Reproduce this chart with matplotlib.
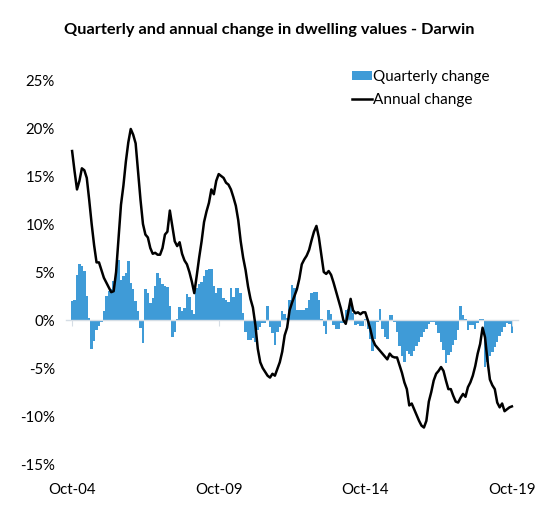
import matplotlib
matplotlib.use("Agg")
import matplotlib.pyplot as plt
import numpy as np

plt.rcParams['font.family'] = ['Lato', 'DejaVu Sans']

title = "Quarterly and annual change in dwelling values - Darwin"
series_names = ["Quarterly change", "Annual change"]
tick_labels = ["Oct-04", "Oct-09", "Oct-14", "Oct-19"]
tick_months = [0, 60, 120, 180]
y_ticks = [-15, -10, -5, 0, 5, 10, 15, 20, 25]

# monthly values, Oct-04 .. Oct-19 (181 months), in %
quarterly = [
    2.0, 2.1, 4.7, 5.8, 5.6, 5.1, 2.5, 0.2, -3.0, -2.2,
    -1.0, -0.6, -0.2, 0.9, 2.5, 3.0, 3.2, 4.1, 4.7, 6.3,
    4.2, 4.6, 4.9, 6.1, 3.9, 3.2, 2.0, 0.9, -0.8, -2.4,
    3.2, 2.8, 1.8, 2.3, 3.5, 4.9, 4.4, 3.8, 3.5, 3.4,
    1.5, -1.8, -1.2, 0.1, 1.4, 0.9, 1.2, 2.7, 2.4, 1.0,
    0.6, 3.3, 3.8, 4.0, 4.6, 5.2, 5.3, 5.3, 3.5, 2.8,
    3.3, 3.3, 2.3, 2.1, 1.9, 3.3, 2.4, 3.3, 3.3, 2.8,
    0.7, -1.2, -2.1, -2.1, -1.9, -2.3, -1.0, -0.7, -0.3, -0.3,
    1.5, -0.7, -1.4, -2.6, -1.2, -0.7, 0.9, 0.6, 0.2, 2.1,
    3.6, 3.3, 1.0, 1.0, 1.0, 1.0, 1.2, 2.1, 2.8, 2.9,
    2.9, 2.1, 0.1, -0.6, -1.5, 1.0, 0.6, -0.5, -0.9, -0.9,
    -0.3, -0.3, 1.0, 1.1, 2.1, 0.7, -0.5, -0.4, -0.6, -0.6,
    0.1, -0.9, -2.0, -3.2, -2.0, -0.2, 1.1, -0.9, -1.8, -2.0,
    0.5, 0.5, -0.2, -1.3, -2.7, -3.7, -4.4, -3.2, -3.5, -3.7,
    -3.2, -2.7, -2.3, -1.8, -1.3, -0.9, -0.4, -0.2, -0.2, -0.5,
    -1.4, -2.3, -3.1, -4.5, -3.6, -3.3, -2.6, -2.1, -1.0, 1.5,
    0.5, 0.1, -1.0, -0.5, -0.5, -0.9, -0.3, 0.1, 0.1, -4.9,
    -4.4, -3.8, -3.3, -2.8, -2.3, -1.7, -1.2, -0.7, -0.3, -0.4,
    -1.4,
]

annual = [
    17.6, 15.5, 13.6, 14.5, 15.8, 15.6, 14.8, 12.5, 10.0, 7.8,
    6.0, 6.0, 5.2, 4.4, 3.9, 3.4, 2.9, 3.0, 5.0, 8.5,
    12.0, 14.0, 16.5, 18.5, 19.9, 19.3, 18.4, 15.5, 12.5, 10.0,
    8.9, 8.6, 7.5, 6.9, 7.0, 6.8, 6.8, 7.5, 8.9, 9.2,
    11.4, 9.8, 8.2, 7.7, 8.1, 6.9, 6.2, 5.8, 5.0, 4.0,
    2.8, 4.6, 6.5, 8.2, 10.2, 11.3, 12.2, 13.6, 13.1, 14.5,
    15.2, 15.0, 14.8, 14.3, 14.1, 13.6, 12.8, 11.9, 10.4, 8.2,
    6.5, 5.2, 3.5, 2.2, 1.3, -0.5, -3.0, -4.4, -5.0, -5.4,
    -5.8, -6.0, -5.6, -5.8, -5.1, -4.4, -3.3, -1.6, -0.8, 1.0,
    1.8, 2.5, 3.2, 4.3, 5.8, 6.3, 6.7, 7.3, 8.3, 9.2,
    9.8, 8.6, 6.8, 5.0, 4.8, 5.1, 4.7, 3.9, 3.0, 2.1,
    1.2, 0.0, -0.4, 0.8, 2.2, 1.0, 0.7, 0.8, 0.6, 0.8,
    0.8, 0.0, -0.9, -2.0, -2.6, -2.9, -3.2, -3.5, -3.8, -4.1,
    -3.5, -3.8, -3.9, -3.9, -4.7, -5.5, -6.5, -7.2, -8.9, -8.7,
    -9.3, -9.9, -10.5, -11.0, -11.2, -10.5, -8.5, -7.5, -6.3, -5.6,
    -5.3, -4.9, -5.3, -6.3, -7.2, -7.2, -7.9, -8.5, -8.6, -8.1,
    -7.7, -8.0, -7.0, -6.5, -5.8, -4.8, -3.5, -2.5, -0.8, -1.8,
    -4.2, -6.2, -6.8, -7.2, -8.6, -9.1, -8.7, -9.5, -9.3, -9.1,
    -9.0,
]

months = np.arange(len(annual))

fig = plt.figure(figsize=(5.45, 5.2), dpi=100)
ax = fig.add_axes([66/545, 1-464/520, 452/545, 384/520])

bar_color = '#3f9bd7'
bars = ax.bar(months, quarterly, width=1.0, color=bar_color, linewidth=0,
              label=series_names[0], zorder=1)
line, = ax.plot(months, annual, color='black', lw=1.8,
                label=series_names[1], zorder=4)

ax.set_xlim(-2.5, 182.5)
ax.set_ylim(-15, 25)
ax.set_yticks(y_ticks)
ax.set_yticklabels([f"{v}%" for v in y_ticks])

for s in ['top', 'right', 'left']:
    ax.spines[s].set_visible(False)
ax.spines['bottom'].set_position(('data', 0))
ax.spines['bottom'].set_color('#d5dde5')
ax.spines['bottom'].set_linewidth(1.0)
ax.spines['bottom'].set_zorder(3)
ax.set_xticks(tick_months)
ax.tick_params(axis='x', length=4, color='#d5dde5', labelbottom=False)
ax.tick_params(axis='y', length=0, pad=8, labelsize=10.8)

sec = ax.secondary_xaxis(0)
sec.set_xticks(tick_months)
sec.set_xticklabels(tick_labels)
sec.tick_params(length=0, pad=14, labelsize=10.8)
sec.spines['bottom'].set_visible(False)

fig.text(0.494, 1-30/520, title, ha='center', va='center',
         fontsize=11.8, fontweight='bold')

leg = ax.legend([bars, line], series_names, loc='upper left',
                bbox_to_anchor=(0.632, 1.026), frameon=False,
                fontsize=11, handlelength=1.3, handleheight=0.55,
                handletextpad=0.1, labelspacing=0.62, borderaxespad=0,
                borderpad=0)

fig.savefig('out.png', dpi=100, facecolor='white')
